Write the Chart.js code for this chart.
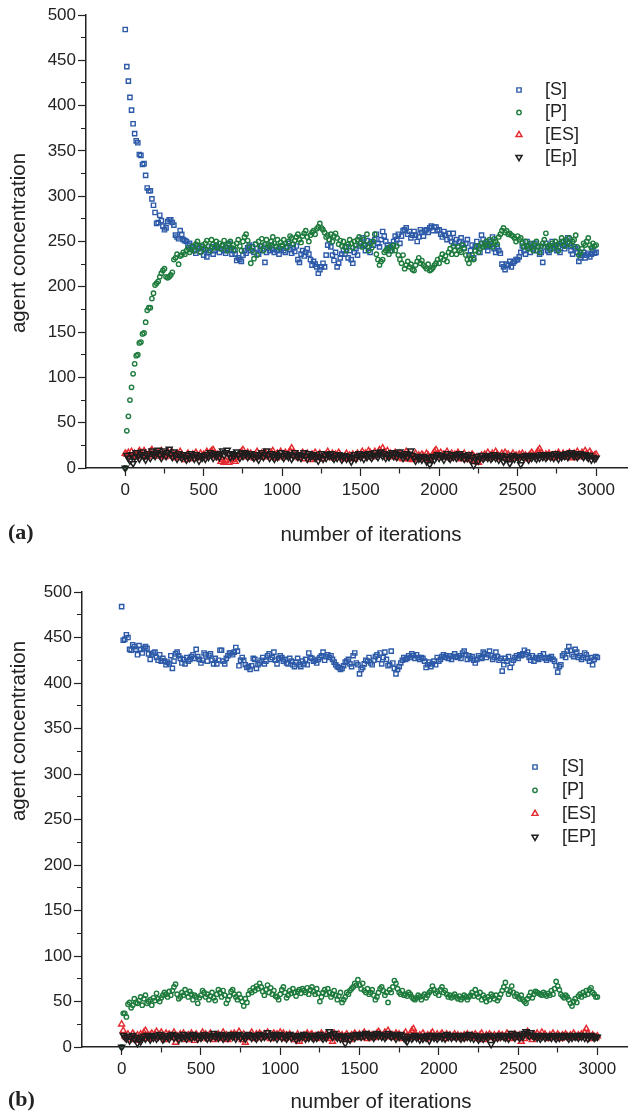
<!DOCTYPE html>
<html>
<head>
<meta charset="utf-8">
<script src="https://cdn.jsdelivr.net/npm/chart.js@4.4.1/dist/chart.umd.min.js"></script>
<style>
  html, body { margin: 0; padding: 0; background: #fff; }
  .panel { position: absolute; left: 0; width: 633px; }
  #panelA { top: 0; height: 550px; }
  #panelB { top: 550px; height: 562px; }
</style>
</head>
<body>
<div class="panel" id="panelA"><canvas id="chartA" width="633" height="550"></canvas></div>
<div class="panel" id="panelB"><canvas id="chartB" width="633" height="562"></canvas></div>
<script>
// ---- data: one sample every 10 iterations, 0..3000 ----
const STEP = 10;
const iterations = Array.from({ length: 301 }, (_, i) => i * STEP);

const xMajorTicks = [0, 500, 1000, 1500, 2000, 2500, 3000];
const xMinorTicks = [250, 750, 1250, 1750, 2250, 2750];
const yMajorTicks = [0, 50, 100, 150, 200, 250, 300, 350, 400, 450, 500];
const yMinorTicks = [25, 75, 125, 175, 225, 275, 325, 375, 425, 475];

// panel (a)
const aS = [
  484,443,427,409,395,380,369,361,359,346,
  345,335,336,323,309,306,306,297,290,282,
  270,271,279,273,267,263,265,272,274,274,
  271,268,257,255,253,262,258,252,251,250,
  246,248,243,244,240,237,245,242,239,244,
  235,241,233,238,240,244,236,240,246,243,
  238,242,245,240,237,243,248,241,236,240,
  236,229,232,230,228,235,240,237,243,246,
  240,244,238,247,242,236,240,245,242,227,
  238,243,240,246,241,238,244,240,236,242,
  245,240,238,244,248,241,237,243,239,245,
  230,227,236,240,234,238,242,236,230,224,
  228,225,222,215,219,222,226,222,235,246,
  252,244,235,229,238,222,226,232,236,240,
  236,244,232,240,230,226,238,242,235,245,
  248,254,246,240,251,244,238,250,246,252,
  258,248,244,252,261,256,250,246,243,240,
  246,250,256,252,258,248,256,262,263,265,
  258,261,254,257,261,257,250,255,263,260,
  256,262,263,260,265,267,262,266,266,262,
  263,258,255,261,257,252,259,254,250,259,
  248,252,245,250,254,247,243,248,252,235,
  240,246,232,244,250,245,238,257,252,248,
  244,240,246,250,255,242,238,244,240,237,
  225,222,219,225,224,228,222,226,228,230,
  230,233,238,245,240,236,250,244,238,246,
  242,248,240,245,236,238,227,244,248,240,
  238,245,250,242,246,240,244,238,250,246,
  242,245,254,248,240,236,244,242,238,228,
  232,235,238,232,235,237,233,236,240,237,
  238
];
const aP = [
  0,41,57,75,89,104,115,124,125,138,
  139,148,149,161,174,177,177,187,193,202,
  204,206,211,215,218,220,211,210,211,213,
  216,230,232,236,225,234,235,238,236,240,
  243,238,241,245,240,247,250,244,238,246,
  242,248,251,245,240,252,247,243,250,244,
  248,242,246,251,245,240,247,250,243,246,
  241,248,252,245,240,250,255,258,251,244,
  226,240,231,247,235,250,245,253,240,247,
  252,246,244,250,255,248,245,252,243,249,
  246,252,248,243,250,256,254,247,251,255,
  258,252,249,256,259,262,255,250,257,260,
  262,258,264,266,270,265,263,260,255,257,
  252,258,250,256,259,254,247,251,245,250,
  244,240,247,252,248,243,250,246,252,255,
  248,244,252,246,258,240,248,243,250,258,
  236,230,224,228,230,238,240,242,236,244,
  240,246,240,245,235,230,226,235,220,224,
  228,222,225,219,218,224,228,232,226,229,
  224,222,220,225,218,219,221,224,226,230,
  226,232,236,230,234,228,238,242,236,245,
  240,236,244,240,238,246,242,235,230,226,
  231,235,230,240,245,238,242,248,244,246,
  250,246,252,248,244,253,250,247,255,258,
  262,265,260,262,258,259,257,256,254,250,
  256,252,254,248,244,250,245,242,248,244,
  240,246,250,244,238,245,248,252,259,244,
  246,241,248,244,250,246,240,248,254,250,
  245,252,248,254,246,250,252,257,244,235,
  238,242,248,246,250,254,246,243,248,245,
  246
];
const aES = [
  16,15,17,13,18,14,16,12,15,19,
  17,14,19,16,12,15,18,20,14,16,
  13,17,15,19,14,12,16,18,13,15,
  17,14,11,16,13,18,15,12,9,14,
  16,13,10,15,12,17,14,11,16,13,
  15,12,18,14,17,19,20,16,13,15,
  11,7,9,6,8,12,6,10,14,9,
  7,11,13,16,18,20,15,12,17,14,
  16,13,11,15,18,14,12,16,13,17,
  15,12,14,17,19,13,11,16,14,18,
  12,15,17,13,16,19,22,17,14,12,
  15,11,13,17,10,14,16,12,9,15,
  13,17,11,14,16,12,10,13,15,18,
  14,12,16,11,15,13,17,14,12,10,
  13,16,11,14,12,15,10,13,16,12,
  15,18,14,16,13,19,17,12,15,18,
  14,16,20,17,22,18,15,19,13,16,
  12,15,17,14,11,16,13,10,15,18,
  12,10,14,9,13,16,11,14,10,15,
  13,11,16,14,9,12,15,18,20,16,
  14,17,12,15,13,18,14,11,16,13,
  15,12,17,14,10,13,16,12,9,14,
  11,15,13,8,12,6,10,14,12,15,
  13,17,11,14,16,12,18,15,13,11,
  16,14,17,12,15,10,13,16,12,14,
  11,15,13,16,12,14,10,13,15,17,
  14,12,16,19,21,17,14,12,15,13,
  16,12,14,11,15,13,17,14,12,16,
  13,15,12,17,14,11,16,13,18,15,
  12,17,14,19,16,13,18,15,12,14,
  15
];
const aEp = [
  0,14,11,8,15,5,12,17,13,10,
  15,18,12,9,14,16,11,19,15,13,
  17,20,14,11,16,19,13,17,21,15,
  12,18,14,10,16,13,11,15,12,9,
  14,11,16,13,10,15,12,8,14,11,
  13,10,15,12,17,14,11,16,13,15,
  12,16,19,14,17,20,15,12,16,13,
  15,18,14,11,16,13,17,15,12,14,
  16,13,11,15,12,9,14,17,12,15,
  19,14,11,16,13,10,15,12,14,17,
  13,11,16,14,12,15,10,13,17,14,
  12,15,11,14,17,13,10,16,12,14,
  15,11,13,8,12,16,10,14,11,15,
  13,16,12,10,14,11,15,13,9,12,
  14,10,13,11,7,12,15,10,13,16,
  12,14,10,15,12,16,13,11,14,17,
  14,12,15,18,13,16,11,14,12,15,
  17,13,16,12,15,18,14,11,13,16,
  12,15,19,14,11,8,13,10,12,9,
  13,11,7,12,4,10,13,9,12,15,
  11,14,12,9,13,16,12,10,14,12,
  15,11,13,16,12,14,10,13,11,15,
  9,12,3,10,13,8,11,14,10,12,
  13,11,14,10,12,15,11,13,9,12,
  14,7,10,13,11,5,12,14,10,13,
  12,10,4,13,11,14,12,9,13,11,
  14,12,10,13,11,15,12,14,11,13,
  15,12,14,11,16,13,10,14,12,15,
  13,16,12,14,17,15,13,16,12,14,
  16,14,12,15,13,11,14,9,12,10,
  11
];

// panel (b)
const bS = [
  484,447,448,453,450,437,436,442,440,437,
  431,441,437,433,438,440,438,432,426,431,
  433,434,428,425,431,424,427,424,420,423,
  421,430,416,424,432,434,430,427,422,426,
  421,428,424,426,429,431,427,437,429,426,
  422,425,433,431,424,430,432,425,421,427,
  421,425,436,436,424,421,427,430,433,433,
  431,434,439,435,419,425,428,425,420,417,
  418,415,419,427,426,416,420,422,425,428,
  421,424,430,432,426,428,434,425,421,427,
  430,428,424,426,422,421,427,424,420,418,
  423,427,420,418,424,421,426,420,433,428,
  427,424,425,422,426,428,430,434,425,429,
  431,428,430,426,423,420,418,417,415,416,
  419,423,424,426,421,418,430,433,422,420,
  410,415,417,421,425,424,428,422,420,425,
  429,431,426,433,421,428,434,426,419,420,
  435,422,416,410,415,418,422,425,428,426,
  427,430,428,432,430,427,431,428,426,428,
  427,424,417,420,423,418,421,424,420,428,
  424,426,429,431,428,430,427,430,426,429,
  432,429,428,430,427,433,435,431,426,430,
  427,429,425,422,426,430,428,427,434,432,
  428,431,435,430,426,428,434,429,425,427,
  413,420,427,424,429,417,422,425,428,430,
  427,431,430,432,436,431,434,428,425,430,
  424,428,427,426,430,428,432,427,425,428,
  427,429,426,424,419,412,418,420,430,432,
  428,435,440,436,431,429,437,434,428,430,
  426,428,433,431,427,424,428,420,426,429,
  428
];
const bP = [
  0,37,37,33,47,49,43,46,53,49,
  48,51,55,46,53,57,48,50,52,46,
  54,51,59,53,50,54,57,60,58,55,
  61,57,62,66,69,58,53,55,60,57,
  63,59,55,61,58,52,57,55,48,54,
  57,62,60,55,58,52,56,60,54,51,
  58,63,60,55,62,57,48,52,56,61,
  63,58,55,52,58,54,50,45,53,49,
  58,62,60,65,62,67,64,70,66,61,
  57,63,68,60,65,58,62,56,55,52,
  58,63,66,60,54,57,62,59,64,60,
  56,61,63,59,64,62,60,65,58,63,
  66,61,58,64,59,50,55,60,63,58,
  64,60,55,58,62,57,52,56,60,49,
  52,55,60,58,62,64,66,70,68,74,
  68,64,70,62,60,64,58,60,63,57,
  52,55,60,64,66,62,57,60,49,63,
  60,66,73,70,64,60,58,62,57,58,
  56,60,58,55,53,52,54,57,55,52,
  56,58,54,57,60,62,67,63,59,61,
  57,63,66,60,62,58,55,57,54,56,
  58,55,53,56,52,54,57,55,52,55,
  57,60,56,63,58,55,60,52,57,54,
  50,55,52,58,56,53,57,51,54,58,
  62,66,71,63,58,61,67,60,56,58,
  55,53,57,52,50,48,53,56,60,54,
  58,61,60,59,58,57,60,58,56,59,
  57,62,58,64,72,67,63,58,56,54,
  57,55,52,48,45,50,53,49,56,58,
  55,60,57,62,58,63,65,60,58,55,
  55
];
const bES = [
  25,18,12,10,14,8,11,15,12,9,
  13,7,14,11,16,18,12,9,13,15,
  11,14,17,10,13,16,12,8,15,11,
  14,10,13,16,5,12,9,14,11,15,
  12,8,13,10,15,11,7,14,12,9,
  13,16,11,14,9,12,15,10,8,13,
  11,14,9,12,16,10,13,8,11,14,
  12,15,10,13,17,11,8,14,5,12,
  10,13,16,12,9,14,11,15,13,10,
  14,11,16,12,9,13,15,11,14,10,
  16,12,15,9,13,11,14,10,12,8,
  11,14,6,12,10,13,9,15,11,13,
  14,10,12,9,13,11,15,12,10,14,
  11,9,13,6,15,12,10,14,11,13,
  9,12,14,11,8,13,10,15,12,11,
  14,10,13,16,12,9,14,11,13,10,
  12,15,17,14,11,13,16,12,18,14,
  11,13,10,15,12,14,11,9,13,16,
  12,10,14,18,20,15,12,10,13,11,
  15,12,9,13,11,14,16,12,10,14,
  11,13,15,12,9,14,11,13,10,12,
  14,11,13,10,12,9,13,11,14,12,
  10,13,11,14,12,9,13,15,11,8,
  13,11,14,12,10,13,9,12,14,11,
  13,10,12,15,11,9,13,11,14,12,
  10,13,6,12,9,14,17,13,11,8,
  14,12,15,10,13,16,12,14,11,9,
  13,11,15,12,10,14,12,9,13,11,
  14,12,10,13,11,15,12,10,13,11,
  14,12,16,20,15,12,9,13,11,10,
  12
];
const bEP = [
  0,13,11,9,12,7,10,13,9,11,
  4,8,6,10,12,9,13,11,8,12,
  10,13,9,11,14,12,8,10,13,11,
  9,12,14,10,13,11,8,12,10,14,
  11,9,13,12,10,14,11,13,9,12,
  10,12,14,11,9,13,10,12,15,11,
  13,10,12,14,9,11,13,10,12,14,
  11,13,9,12,14,10,13,11,9,12,
  14,12,10,13,11,9,12,14,10,13,
  11,13,16,12,10,14,11,13,9,12,
  14,10,13,11,9,12,14,10,13,11,
  8,12,10,13,11,14,9,12,10,13,
  11,9,13,10,12,14,11,9,12,10,
  13,17,14,11,15,12,10,13,9,12,
  11,4,10,13,8,11,13,10,14,12,
  13,11,14,12,15,13,11,14,12,10,
  13,15,12,14,11,13,10,12,15,13,
  11,14,12,9,13,11,14,12,10,8,
  6,10,12,9,11,13,10,12,8,11,
  9,12,10,13,7,11,13,10,12,9,
  11,13,10,12,9,14,11,13,10,12,
  12,10,13,11,9,12,10,13,11,14,
  10,12,9,13,11,8,10,12,9,11,
  12,10,13,3,11,9,12,10,13,11,
  13,11,10,12,9,13,15,12,10,14,
  12,10,13,11,15,17,14,12,16,13,
  11,13,10,12,9,11,13,10,12,11,
  12,10,13,11,9,12,10,13,11,12,
  13,11,9,12,10,13,11,12,10,13,
  11,13,10,12,9,11,13,12,10,11,
  11
];

/*************************************************
 * styles
 *************************************************/
const INK = '#222222';
const SANS = '"Liberation Sans", Arial, Helvetica, sans-serif';
const SERIF = '"Liberation Serif", "Times New Roman", serif';
const BLUE = '#2c5aa8';
const GREEN = '#1d7b3c';
const RED = '#e3292e';
const DARK = '#1e1e1e';

const xTickValues = [...xMajorTicks, ...xMinorTicks].sort((a, b) => a - b);
const yTickValues = [...yMajorTicks, ...yMinorTicks].sort((a, b) => a - b);

function points(values) {
  return values.map((v, i) => ({ x: iterations[i], y: v }));
}

function series(label, values, color, style, radius, rotation, width, order) {
  return {
    label: label,
    data: points(values),
    showLine: false,
    pointStyle: style,
    pointRadius: radius,
    pointRotation: rotation,
    pointBorderColor: color,
    pointBackgroundColor: 'rgba(255,255,255,0)',
    pointBorderWidth: width,
    order: order,
    clip: 10
  };
}

// text, legend and panel tag drawn on top of the chart
const overlay = {
  id: 'overlay',
  afterDraw(chart, args, o) {
    const ctx = chart.ctx;
    ctx.save();
    ctx.fillStyle = INK;
    ctx.textBaseline = 'middle';
    ctx.textAlign = 'center';
    ctx.font = '20.5px ' + SANS;
    ctx.fillText(o.xTitle, o.xTitleAt[0], o.xTitleAt[1]);
    ctx.save();
    ctx.translate(o.yTitleAt[0], o.yTitleAt[1]);
    ctx.rotate(-Math.PI / 2);
    ctx.fillText(o.yTitle, 0, 0);
    ctx.restore();

    ctx.textAlign = 'left';
    ctx.font = 'bold 22px ' + SERIF;
    ctx.fillText(o.tag, o.tagAt[0], o.tagAt[1]);

    ctx.font = '18px ' + SANS;
    o.legend.forEach((name, i) => {
      const ds = chart.data.datasets[i];
      const y = o.legendAt[1] + i * o.legendGap;
      ctx.strokeStyle = ds.pointBorderColor;
      ctx.fillStyle = 'rgba(255,255,255,0)';
      ctx.lineWidth = ds.pointBorderWidth;
      Chart.helpers.drawPoint(ctx, {
        pointStyle: ds.pointStyle,
        rotation: ds.pointRotation,
        radius: ds.pointRadius,
        borderWidth: ds.pointBorderWidth
      }, o.legendAt[0], y);
      ctx.fillStyle = INK;
      ctx.fillText(name, o.legendAt[0] + o.legendTextGap, y);
    });
    ctx.restore();
  }
};

function makeChart(id, p) {
  return new Chart(document.getElementById(id), {
    type: 'scatter',
    data: {
      datasets: [
        series(p.legend[0], p.s, BLUE, 'rect', 3.0, 0, 1.4, 4),
        series(p.legend[1], p.p, GREEN, 'circle', 2.2, 0, 1.4, 3),
        series(p.legend[2], p.es, RED, 'triangle', 3.5, 0, 1.4, 2),
        series(p.legend[3], p.ep, DARK, 'triangle', 3.5, 180, 1.5, 1)
      ]
    },
    options: {
      responsive: false,
      animation: false,
      events: [],
      layout: { padding: { top: p.top, right: 0, left: 0, bottom: 0 } },
      plugins: {
        legend: { display: false },
        tooltip: { enabled: false },
        overlay: {
          xTitle: 'number of iterations', xTitleAt: p.xTitleAt,
          yTitle: 'agent concentration', yTitleAt: p.yTitleAt,
          tag: p.tag, tagAt: p.tagAt,
          legend: p.legend, legendAt: p.legendAt, legendGap: p.legendGap, legendTextGap: p.legendTextGap
        }
      },
      scales: {
        x: {
          type: 'linear',
          min: -250,
          max: p.xMax,
          afterBuildTicks: s => { s.ticks = xTickValues.map(v => ({ value: v })); },
          afterFit: s => { s.height = p.xHeight; },
          border: { display: true, color: INK, width: 1.5 },
          grid: {
            drawOnChartArea: false,
            tickLength: 8,
            tickWidth: 1.2,
            tickColor: INK,
            tickBorderDash: c => (c.tick && xMinorTicks.includes(c.tick.value)) ? [5, 20] : []
          },
          ticks: {
            autoSkip: false,
            maxRotation: 0,
            padding: 4,
            color: INK,
            font: { family: SANS, size: 17 },
            callback: v => xMajorTicks.includes(v) ? String(v) : ''
          }
        },
        y: {
          type: 'linear',
          position: 'left',
          min: 0,
          max: 500,
          afterBuildTicks: s => { s.ticks = yTickValues.map(v => ({ value: v })); },
          afterFit: s => { s.width = p.yWidth; },
          border: { display: true, color: INK, width: 1.5 },
          grid: {
            drawOnChartArea: false,
            tickLength: 8,
            tickWidth: 1.2,
            tickColor: INK,
            tickBorderDash: c => (c.tick && yMinorTicks.includes(c.tick.value)) ? [0, 3, 20] : []
          },
          ticks: {
            autoSkip: false,
            padding: 2,
            color: INK,
            font: { family: SANS, size: 17 },
            callback: v => yMajorTicks.includes(v) ? String(v) : ''
          }
        }
      }
    },
    plugins: [overlay]
  });
}

makeChart('chartA', {
  s: aS, p: aP, es: aES, ep: aEp,
  legend: ['[S]', '[P]', '[ES]', '[Ep]'],
  top: 15, xHeight: 82, yWidth: 86, xMax: 3200,
  xTitleAt: [371, 535], yTitleAt: [19, 243],
  tag: '(a)', tagAt: [8, 533],
  legendAt: [519, 90], legendGap: 22.4, legendTextGap: 26
});

makeChart('chartB', {
  s: bS, p: bP, es: bES, ep: bEP,
  legend: ['[S]', '[P]', '[ES]', '[EP]'],
  top: 42, xHeight: 65, yWidth: 82, xMax: 3190,
  xTitleAt: [381, 552], yTitleAt: [19, 181],
  tag: '(b)', tagAt: [8, 550],
  legendAt: [535, 217], legendGap: 23.3, legendTextGap: 27
});
</script>
</body>
</html>
